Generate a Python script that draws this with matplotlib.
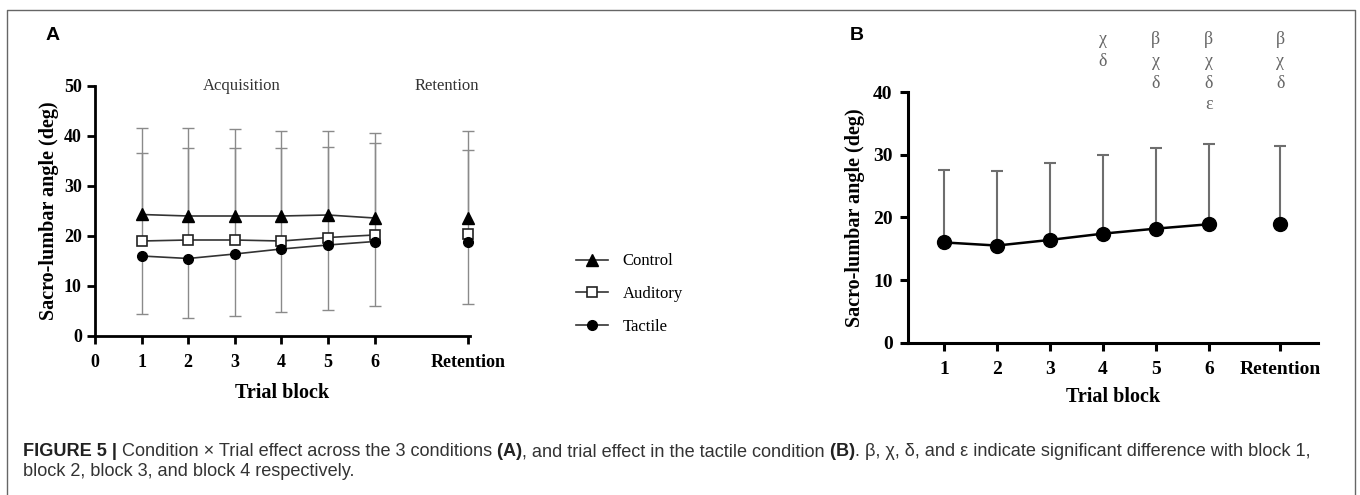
import numpy as np
import matplotlib
matplotlib.use("Agg")
import matplotlib.pyplot as plt
from matplotlib.lines import Line2D

# data (deg)
block_labels = ['1', '2', '3', '4', '5', '6', 'Retention']
control_mean = [24.3, 24.0, 24.0, 24.0, 24.2, 23.6, 23.6]
control_sd = [17.2, 17.5, 17.4, 17.0, 16.8, 16.9, 17.4]
auditory_mean = [19.0, 19.2, 19.2, 19.0, 19.7, 20.2, 20.4]
auditory_sd = [17.5, 18.3, 18.3, 18.5, 18.0, 18.3, 16.8]
tactile_mean = [16.0, 15.5, 16.4, 17.4, 18.2, 18.9, 18.9]
tactile_sd = [11.6, 11.9, 12.3, 12.6, 12.9, 12.8, 12.5]
# significance letters in panel B (block -> letters)
sig_letters = {'4': ['χ', 'δ'], '5': ['β', 'χ', 'δ'],
               '6': ['β', 'χ', 'δ', 'ε'], 'Retention': ['β', 'χ', 'δ']}

serif = 'Liberation Serif'
sans = 'Liberation Sans'

fig = plt.figure(figsize=(13.6, 4.95), dpi=100)

def px(x0, y0, x1, y1):
    # pixel box (top-left origin) -> figure fraction rect
    W, H = 1360, 495
    return [x0 / W, 1 - y1 / H, (x1 - x0) / W, (y1 - y0) / H]

def style_axes(ax, lw, fs, pady, padx):
    for s in ['top', 'right']:
        ax.spines[s].set_visible(False)
    for s in ['left', 'bottom']:
        ax.spines[s].set_linewidth(lw)
    ax.tick_params(width=lw, length=6, direction='out')
    ax.tick_params(axis='x', pad=padx)
    ax.tick_params(axis='y', pad=pady)
    for lab in ax.get_xticklabels() + ax.get_yticklabels():
        lab.set_fontfamily(serif)
        lab.set_fontweight('bold')
        lab.set_fontsize(fs)

def one_sided(ax, x, mean, sd, up, color, lw, cap):
    mean = np.asarray(mean)
    sd = np.asarray(sd)
    end = mean + sd if up else mean - sd
    ax.vlines(x, mean, end, color=color, lw=lw, zorder=1, clip_on=False)
    ax.plot(x, end, ls='none', marker='_', ms=cap, mew=lw, color=color,
            zorder=1, clip_on=False)

# ---------------- panel A ----------------
axA = fig.add_axes(px(95, 86, 470, 336))
xa = np.r_[np.arange(1, 7), 8]

one_sided(axA, xa, control_mean, control_sd, True, '#8a8a8a', 1.0, 8)
one_sided(axA, xa, auditory_mean, auditory_sd, True, '#8a8a8a', 1.0, 8)
one_sided(axA, xa, tactile_mean, tactile_sd, False, '#8a8a8a', 1.0, 8)

series = [
    ('Control', control_mean, dict(marker='^', ms=8, mfc='black', mec='black')),
    ('Auditory', auditory_mean, dict(marker='s', ms=7, mfc='white', mec='#222222', mew=1.2)),
    ('Tactile', tactile_mean, dict(marker='o', ms=7, mfc='black', mec='black')),
]
handles = []
for name, m, mk in series:
    axA.plot(xa[:6], m[:6], color='#333333', lw=1.2, zorder=3, **mk, clip_on=False)
    axA.plot(xa[6:], m[6:], ls='none', zorder=3, **mk, clip_on=False)
    handles.append(Line2D([], [], color='#333333', lw=1.2, label=name, **mk))

axA.set_xlim(0, 8.05)
axA.set_ylim(0, 50)
axA.set_xticks(np.r_[0, xa])
axA.set_xticklabels(['0'] + block_labels)
axA.set_yticks(np.arange(0, 51, 10))
style_axes(axA, 2.0, 13, 3.5, 7)
axA.set_xlabel('Trial block', fontfamily=serif, fontweight='bold', fontsize=14.5)
axA.set_ylabel('Sacro-lumbar angle (deg)', fontfamily=serif, fontweight='bold', fontsize=14.5)
axA.xaxis.set_label_coords(0.5, -0.19)
axA.yaxis.set_label_coords(-0.095, 0.5)

axA.text(3.15, 50, 'Acquisition', ha='center', va='center', fontfamily=serif,
         fontsize=12, color='#333333')
axA.text(7.55, 50, 'Retention', ha='center', va='center', fontfamily=serif,
         fontsize=12, color='#333333')

fig.legend(handles=handles, loc='center left',
           bbox_to_anchor=(561 / 1360, 1 - 294 / 495), frameon=False,
           handlelength=1.9, labelspacing=1.0, handletextpad=0.9,
           prop={'family': serif, 'size': 12})

# ---------------- panel B ----------------
axB = fig.add_axes(px(908, 92, 1318, 342.7))
xb = np.r_[np.arange(1, 7), 7.35]

one_sided(axB, xb, tactile_mean, tactile_sd, True, '#6e6e6e', 1.5, 8)
axB.plot(xb[:6], tactile_mean[:6], color='black', lw=1.8, marker='o', ms=10,
         zorder=3, clip_on=False)
axB.plot(xb[6:], tactile_mean[6:], ls='none', color='black', marker='o', ms=10,
         zorder=3, clip_on=False)

axB.set_xlim(0.32, 8.06)
axB.set_ylim(0, 40)
axB.set_xticks(xb)
axB.set_xticklabels(block_labels)
axB.set_yticks(np.arange(0, 41, 10))
style_axes(axB, 2.2, 14, 5, 7)
axB.set_xlabel('Trial block', fontfamily=serif, fontweight='bold', fontsize=14.5)
axB.set_ylabel('Sacro-lumbar angle (deg)', fontfamily=serif, fontweight='bold', fontsize=14.5)
axB.xaxis.set_label_coords(0.5, -0.175)
axB.yaxis.set_label_coords(-0.105, 0.5)

for lab, letters in sig_letters.items():
    xi = xb[block_labels.index(lab)]
    for i, ch in enumerate(letters):
        axB.annotate(ch, xy=(xi, 40), xytext=(0, 37.5 - 15.6 * i),
                     textcoords='offset points', ha='center', va='center',
                     fontfamily=serif, fontsize=13, color='#666666',
                     annotation_clip=False)

# panel letters
fig.text(46 / 1360, 1 - 36 / 495, 'A', fontfamily=sans, fontweight='bold',
         fontsize=14, va='center', ha='left')
fig.text(850 / 1360, 1 - 36 / 495, 'B', fontfamily=sans, fontweight='bold',
         fontsize=14, va='center', ha='left')

# border
fig.add_artist(Line2D([7 / 1360, 7 / 1360, 1355 / 1360, 1355 / 1360],
                      [0, 1 - 10 / 495, 1 - 10 / 495, 0],
                      transform=fig.transFigure, color='#666666', lw=1.0))

# caption with mixed bold pieces
line1 = [('FIGURE 5 | ', 'bold', '#222222'),
         ('Condition × Trial effect across the 3 conditions', 'normal', '#333333'),
         (' (A)', 'bold', '#222222'),
         (', and trial effect in the tactile condition', 'normal', '#333333'),
         (' (B)', 'bold', '#222222'),
         ('. β, χ, δ, and ε indicate significant difference with block 1,', 'normal', '#333333')]
line2 = [('block 2, block 3, and block 4 respectively.', 'normal', '#333333')]

fig.canvas.draw()
renderer = fig.canvas.get_renderer()
for pieces, ypix in [(line1, 452), (line2, 472)]:
    xcur = 23
    for txt, w, c in pieces:
        t = fig.text(xcur / 1360, 1 - ypix / 495, txt, fontfamily=[sans, 'DejaVu Sans'],
                     fontweight=w, fontsize=13.1, color=c, va='center', ha='left')
        bb = t.get_window_extent(renderer)
        xcur += bb.width

fig.savefig('out.png', dpi=100)
